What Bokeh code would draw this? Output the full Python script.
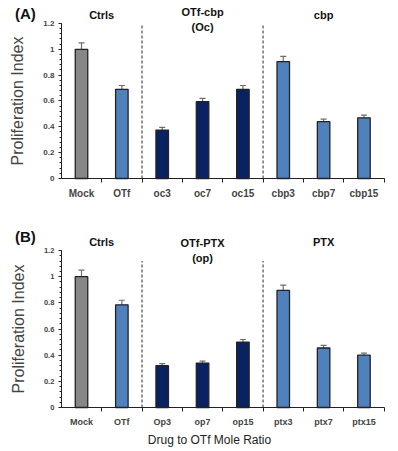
from bokeh.plotting import figure
from bokeh.models import (ColumnDataSource, Range1d, FixedTicker, Whisker, TeeHead,
                          NumeralTickFormatter)
from bokeh.layouts import column
from bokeh.embed import file_html
from bokeh.resources import INLINE
from bokeh.core.properties import value

# ---------------- data ----------------
cats_a = ["Mock", "OTf", "oc3", "oc7", "oc15", "cbp3", "cbp7", "cbp15"]
vals_a = [1.00, 0.69, 0.375, 0.595, 0.69, 0.905, 0.44, 0.47]
errs_a = [0.05, 0.03, 0.02, 0.025, 0.03, 0.04, 0.02, 0.02]
groups_a = ["Ctrls", "OTf-cbp\n(Oc)", "cbp"]

cats_b = ["Mock", "OTf", "Op3", "op7", "op15", "ptx3", "ptx7", "ptx15"]
vals_b = [1.00, 0.785, 0.32, 0.34, 0.50, 0.895, 0.455, 0.40]
errs_b = [0.05, 0.035, 0.015, 0.015, 0.02, 0.04, 0.02, 0.015]
groups_b = ["Ctrls", "OTf-PTX\n(op)", "PTX"]

group_sizes = [2, 3, 3]
kinds = ["mock", "otf", "conj", "conj", "conj", "free", "free", "free"]
yticks = [0, 0.2, 0.4, 0.6, 0.8, 1.0, 1.2]
x_title = "Drug to OTf Mole Ratio"
y_title = "Proliferation Index"

COLORS = {"mock": "#878787", "otf": "#4F81BD", "conj": "#0B2262", "free": "#4F81BD"}
FONT = "Liberation Sans"
W = 398
PX_PER_CAT = 40.35
MOCK_PX = 81  # screen x of first category centre


def make_panel(cats, vals, errs, groups, tag, height, zero_px, px_per_unit,
               tick_font, ytick_font, group_y, tag_y, div_top, xlabel=None):
    n = len(cats)
    xs = list(range(n))
    src = ColumnDataSource(dict(
        x=xs, top=vals,
        upper=[v + e for v, e in zip(vals, errs)],
        lower=[v - e for v, e in zip(vals, errs)],
        color=[COLORS[k] for k in kinds],
    ))
    x0 = -MOCK_PX / PX_PER_CAT
    x1 = (W - MOCK_PX) / PX_PER_CAT
    y1 = zero_px / px_per_unit
    y0 = -(height - zero_px) / px_per_unit
    p = figure(width=W, height=height, output_backend="svg", toolbar_location=None,
               x_range=Range1d(x0, x1), y_range=Range1d(y0, y1),
               min_border=0)
    p.outline_line_color = None
    p.grid.grid_line_color = None
    p.background_fill_color = "white"

    p.vbar(x="x", top="top", width=0.31, source=src, fill_color="color",
           line_color="#222222", line_width=1.3)
    head = dict(size=6, line_color="#6E6E6E", line_width=1.2)
    p.add_layout(Whisker(base="x", upper="upper", lower="lower", source=src,
                         line_color="#6E6E6E", line_width=1.2,
                         upper_head=TeeHead(**head), lower_head=TeeHead(**head)))

    # group dividers and labels
    bounds, centers, acc = [], [], 0
    for g in group_sizes:
        centers.append(acc + (g - 1) / 2)
        acc += g
        bounds.append(acc - 0.5)
    bounds = bounds[:-1]
    p.segment(x0=bounds, x1=bounds, y0=[0] * len(bounds), y1=[div_top] * len(bounds),
              line_color="#707070", line_width=1.5, line_dash="3 2")
    p.text(x=centers, y=group_y, text=groups, text_font=value(FONT),
           text_font_style="bold", text_font_size="11px", text_align="center",
           text_baseline="middle", text_color="#111111", text_line_height=1.25)

    # panel tag
    p.text(x=[-1.39], y=[tag_y], text=[tag], text_font=value(FONT),
           text_font_style="bold", text_font_size="15px", text_align="center",
           text_baseline="middle", text_color="#111111")

    # y axis
    yax = p.yaxis[0]
    yax.fixed_location = -0.5
    yax.bounds = (0, 1.2)
    yax.ticker = FixedTicker(ticks=yticks, minor_ticks=[i * 0.04 for i in range(31)])
    yax.formatter = NumeralTickFormatter(format="0.[0]")
    yax.major_label_text_font = FONT
    yax.major_label_text_font_style = "bold"
    yax.major_label_text_font_size = ytick_font
    yax.major_tick_in = 0
    yax.major_tick_out = 3
    yax.minor_tick_in = 0
    yax.minor_tick_out = 2
    yax.major_label_standoff = 4
    yax.axis_label = y_title
    yax.axis_label_text_font = FONT
    yax.axis_label_text_font_style = "normal"
    yax.axis_label_text_font_size = "16px"
    yax.axis_label_standoff = 14
    yax.axis_line_color = "#222222"
    yax.major_tick_line_color = "#222222"
    yax.minor_tick_line_color = "#222222"

    # x axis: labels at bar centres, ticks at category boundaries
    xax = p.xaxis[0]
    xax.fixed_location = 0
    xax.bounds = (-0.5, n - 0.5)
    xax.ticker = FixedTicker(ticks=xs, minor_ticks=[x + 0.5 for x in xs])
    xax.major_label_overrides = {x: c for x, c in zip(xs, cats)}
    xax.major_tick_line_color = None
    xax.major_tick_in = 0
    xax.major_tick_out = 0
    xax.minor_tick_in = 0
    xax.minor_tick_out = 4
    xax.minor_tick_line_color = "#222222"
    xax.axis_line_color = "#222222"
    xax.major_label_text_font = FONT
    xax.major_label_text_font_style = "bold"
    xax.major_label_text_font_size = tick_font
    xax.major_label_standoff = 5

    if xlabel:
        p.text(x=[(209 - MOCK_PX) / PX_PER_CAT], y=[-(439 - 407) / px_per_unit],
               text=[xlabel], text_font=value(FONT), text_font_size="12px",
               text_align="center", text_baseline="middle", text_color="#222222")
    return p


pa = make_panel(cats_a, vals_a, errs_a, groups_a, "(A)", height=205,
                zero_px=178, px_per_unit=129.2, tick_font="10px", ytick_font="8px",
                group_y=[1.262, 1.227, 1.262], tag_y=1.277, div_top=1.2)
pb = make_panel(cats_b, vals_b, errs_b, groups_b, "(B)", height=246,
                zero_px=202, px_per_unit=130.8, tick_font="9px", ytick_font="7.5px",
                group_y=[1.269, 1.204, 1.269], tag_y=1.307, div_top=1.12,
                xlabel=x_title)

layout = column(pa, pb, spacing=0)
open("out.html", "w").write(file_html(layout, INLINE))
